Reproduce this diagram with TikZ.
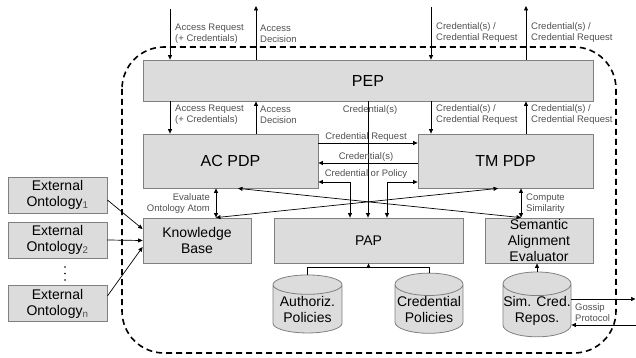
\documentclass[tikz,border=0pt]{standalone}
\usepackage{fontspec}
\setmainfont{Liberation Sans}
\usetikzlibrary{shapes.geometric,arrows.meta}
\definecolor{boxfill}{HTML}{DCDCDC}
\definecolor{boxline}{HTML}{808080}
\definecolor{labeltext}{HTML}{505050}
\tikzset{
  box/.style={draw=boxline, fill=boxfill, line width=0.8pt, inner sep=0pt, align=center,
    font=\fontsize{14}{16}\selectfont},
  bigbox/.style={box, font=\fontsize{16}{18}\selectfont},
  store/.style={box, cylinder, shape border rotate=90, aspect=0.35},
  lbl/.style={text=labeltext, inner sep=0pt, font=\fontsize{9.5}{11}\selectfont},
  frame/.style={dash pattern=on 6pt off 4pt, line width=1.6pt, rounded corners=42pt},
  conn/.style={line width=0.7pt, ->},
  twoway/.style={line width=0.7pt, <->},
}
\begin{document}
\begin{tikzpicture}[x=1pt, y=-1pt, >={Triangle[length=4.5pt,width=4pt]}]
  \useasboundingbox (0,0) rectangle (636,358);
  \draw[frame] (122,47) rectangle (616,353);  % trust boundary

  \node[bigbox, minimum width=450pt, minimum height=41pt] (pep) at (368,80.5) {PEP};
  \node[bigbox, minimum width=175pt, minimum height=54pt] (acpdp) at (230.5,161) {AC PDP};
  \node[bigbox, minimum width=175pt, minimum height=54pt] (tmpdp) at (505.5,161) {TM PDP};
  \node[box, minimum width=108pt, minimum height=45pt] (kb) at (197,240.5) {Knowledge\\Base};
  \node[box, minimum width=189pt, minimum height=45pt] (pap) at (368.5,240.5) {PAP};
  \node[box, minimum width=108pt, minimum height=45pt] (sae) at (539,240.5) {Semantic\\Alignment\\Evaluator};
  \foreach \i/\y in {1/195, 2/240, n/303.5}
  {
    \node[box, minimum width=99pt, minimum height=36pt] (ext\i) at (57.5,\y)
      {External\\Ontology\textsubscript{\color{labeltext}\i}};
  }
  \foreach \y in {267, 273.5, 280}
  {
    \fill (65,\y) circle (0.9pt);  % vertical ellipsis
  }
  \node[store, minimum width=69pt, minimum height=58pt] (auth) at (307.5,309) {Authoriz.\\Policies};
  \node[store, minimum width=68pt, minimum height=58pt] (credpol) at (429,309) {Credential\\Policies};
  \node[store, minimum width=68pt, minimum height=55pt] (simrepo) at (537,310.5) {Sim. Cred.\\Repos.};

  % outside world <-> PEP
  \coordinate (acin) at (170,9);
  \coordinate (acout) at (256,6);
  \coordinate (tmin) at (431,7);
  \coordinate (tmout) at (526,6);
  \draw[conn] (acin) -- (acin |- pep.north);
  \draw[conn] (acout |- pep.north) -- (acout);
  \draw[conn] (tmin) -- (tmin |- pep.north);
  \draw[conn] (tmout |- pep.north) -- (tmout);
  \node[lbl, anchor=west, align=left] at (175,33.5) {Access Request\\(+ Credentials)};
  \node[lbl, anchor=west, align=left] at (260,33.5) {Access\\Decision};
  \node[lbl, anchor=west, align=left] at (436,32.5) {Credential(s) /\\Credential Request};
  \node[lbl, anchor=west, align=left] at (531,32.5) {Credential(s) /\\Credential Request};

  % PEP <-> PDPs
  \draw[conn] (acin |- pep.south) -- (acin |- acpdp.north);
  \draw[conn] (acout |- acpdp.north) -- (acout |- pep.south);
  \draw[conn] (tmin |- pep.south) -- (tmin |- tmpdp.north);
  \draw[conn] (tmout |- tmpdp.north) -- (tmout |- pep.south);
  \node[lbl, anchor=west, align=left] at (175,114.5) {Access Request\\(+ Credentials)};
  \node[lbl, anchor=west, align=left] at (260,114.5) {Access\\Decision};
  \node[lbl, anchor=west, align=left] at (436,114.5) {Credential(s) /\\Credential Request};
  \node[lbl, anchor=west, align=left] at (531,114.5) {Credential(s) /\\Credential Request};
  \draw[conn] (pep.south) -- (pep.south |- pap.north);
  \node[lbl] at (370,110) {Credential(s)};

  % AC PDP <-> TM PDP
  \draw[conn] ([yshift=18pt]acpdp.east) -- ([yshift=18pt]tmpdp.west);
  \draw[conn] ([yshift=-2pt]tmpdp.west) -- ([yshift=-2pt]acpdp.east);
  \draw[twoway] ([yshift=-21pt]acpdp.east) -| ([xshift=-18.5pt]pap.north);
  \draw[twoway] ([yshift=-21pt]tmpdp.west) -| ([xshift=18.5pt]pap.north);
  \node[lbl] at (366,137) {Credential Request};
  \node[lbl] at (366,157) {Credential(s)};
  \node[lbl] at (366,174) {Credential or Policy};

  % knowledge base and alignment
  \draw[twoway] ([xshift=19pt]kb.north) -- ([xshift=19pt]kb.north |- acpdp.south);
  \draw[twoway] ([xshift=19pt]kb.north) -- ([xshift=-7.5pt]tmpdp.south);
  \draw[twoway] ([xshift=7.5pt]acpdp.south) -- ([xshift=-18pt]sae.north);
  \draw[twoway] ([xshift=-18pt]sae.north) -- ([xshift=-18pt]sae.north |- tmpdp.south);
  \node[lbl, anchor=east, align=right] at (210,204) {Evaluate\\Ontology Atom};
  \node[lbl, anchor=west, align=left] at (526,204) {Compute\\Similarity};
  \draw[conn] ([yshift=-5pt]ext1.east) -- ([yshift=11.5pt]kb.west);
  \draw[conn] (ext2.east) -- (kb.west);
  \draw[conn] ([yshift=7.5pt]extn.east) -- ([yshift=-6.5pt]kb.west);

  % policy stores
  \coordinate (merge) at ([yshift=5pt]credpol.north -| pap.south);
  \draw[line width=0.7pt] (auth.north) |- ([yshift=5pt]credpol.north) -- (credpol.north);
  \draw[conn] (merge) -- (pap.south);
  \draw[conn] (simrepo.north) -- (simrepo.north |- sae.south);

  % gossip with other nodes
  \coordinate (gossipout) at (635.5,299);
  \coordinate (gossipin) at (636,325);
  \draw[conn] (simrepo.east |- gossipout) -- (gossipout);
  \draw[conn] (gossipin) -- (simrepo.east |- gossipin);
  \node[lbl, anchor=west, align=left] at (575,312.5) {Gossip\\Protocol};
\end{tikzpicture}
\end{document}
